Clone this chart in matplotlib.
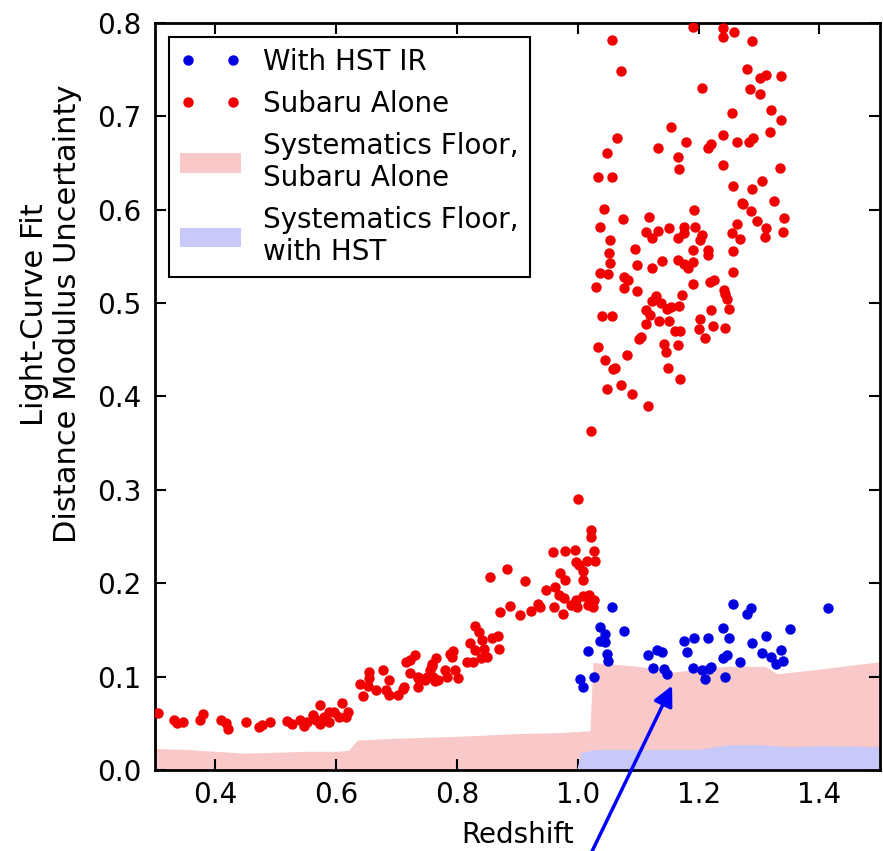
import matplotlib.pyplot as plt
import numpy as np

# Subaru alone (red points)
red_z = [0.305, 0.332, 0.337, 0.347, 0.375, 0.379, 0.410, 0.417, 0.421, 0.450, 0.473, 0.478, 0.491,
         0.518, 0.527, 0.540, 0.547, 0.552, 0.562, 0.567, 0.574, 0.574, 0.580, 0.588, 0.588, 0.596,
         0.604, 0.609, 0.616, 0.619,
         0.639, 0.645, 0.655, 0.655, 0.652, 0.666, 0.677, 0.688, 0.688, 0.683, 0.702, 0.711, 0.716,
         0.722, 0.730, 0.722, 0.736, 0.713,
         0.736, 0.747, 0.755, 0.758, 0.766, 0.761, 0.769, 0.780, 0.783, 0.788, 0.794, 0.791, 0.758,
         0.750, 0.736, 0.797, 0.802, 0.763,
         0.830, 0.836, 0.822, 0.841, 0.830, 0.844, 0.858, 0.868, 0.869, 0.816, 0.827, 0.839, 0.850,
         0.855, 0.882, 0.912, 0.948, 0.963, 0.969, 0.977, 0.997, 1.008, 1.019, 1.027, 1.016, 0.988,
         0.998, 0.961, 0.976, 0.934, 0.937, 0.923, 0.905, 0.887, 0.871, 0.959, 0.979, 0.996, 1.027,
         0.997, 1.002, 1.015, 1.028, 1.008, 1.009, 0.970, 0.979, 1.001, 1.022, 1.022, 1.022, 1.020,
         1.025,
         1.191, 1.241, 1.241, 1.258, 1.288, 1.057, 1.071, 1.206, 1.280, 1.301, 1.312, 1.285, 1.302,
         1.319, 1.255, 1.154, 1.179, 1.133, 1.165, 1.167, 1.064, 1.049, 1.033, 1.056, 1.044, 1.075,
         1.118, 1.192, 1.220, 1.216, 1.240, 1.263, 1.283, 1.290, 1.241, 1.318, 1.257, 1.288, 1.304,
         1.272, 1.286, 1.325, 1.336, 1.336, 1.335, 1.342, 1.339, 1.311, 1.309, 1.296,
         1.036, 1.112, 1.123, 1.133, 1.151, 1.175, 1.175, 1.166, 1.194, 1.206, 1.202, 1.053, 1.052,
         1.053, 1.036, 1.050, 1.030, 1.095, 1.098, 1.123, 1.140, 1.076, 1.083, 1.076, 1.098, 1.165,
         1.175, 1.182, 1.191, 1.191, 1.216, 1.216, 1.190, 1.218, 1.225, 1.172, 1.129, 1.123, 1.137,
         1.148, 1.155, 1.168, 1.112, 1.119, 1.134, 1.151, 1.112, 1.102, 1.104, 1.161, 1.169, 1.142,
         1.146, 1.166, 1.149, 1.169, 1.116, 1.090, 1.071, 1.048, 1.062, 1.058, 1.045, 1.081, 1.034,
         1.040, 1.056, 1.203, 1.221, 1.201, 1.211, 1.223, 1.244, 1.251, 1.247, 1.244, 1.242, 1.256,
         1.257, 1.255, 1.269, 1.264, 1.273]
red_mu = [0.061, 0.054, 0.050, 0.051, 0.054, 0.060, 0.053, 0.050, 0.044, 0.051, 0.046, 0.048, 0.051,
          0.052, 0.049, 0.054, 0.047, 0.051, 0.059, 0.054, 0.070, 0.049, 0.057, 0.062, 0.051, 0.062,
          0.057, 0.072, 0.057, 0.062,
          0.092, 0.079, 0.105, 0.098, 0.090, 0.086, 0.107, 0.096, 0.080, 0.086, 0.080, 0.087, 0.116,
          0.118, 0.123, 0.104, 0.100, 0.089,
          0.089, 0.096, 0.107, 0.114, 0.120, 0.100, 0.096, 0.107, 0.100, 0.124, 0.127, 0.121, 0.111,
          0.100, 0.098, 0.107, 0.098, 0.095,
          0.154, 0.148, 0.136, 0.139, 0.128, 0.130, 0.141, 0.143, 0.130, 0.116, 0.116, 0.120, 0.121,
          0.207, 0.215, 0.202, 0.193, 0.196, 0.187, 0.184, 0.182, 0.186, 0.187, 0.182, 0.177, 0.177,
          0.174, 0.174, 0.167, 0.178, 0.174, 0.170, 0.166, 0.176, 0.169, 0.233, 0.235, 0.236, 0.234,
          0.223, 0.219, 0.224, 0.224, 0.213, 0.203, 0.211, 0.203, 0.290, 0.257, 0.249, 0.363, 0.180,
          0.175,
          0.796, 0.794, 0.785, 0.790, 0.781, 0.782, 0.748, 0.730, 0.751, 0.741, 0.744, 0.729, 0.724,
          0.707, 0.703, 0.688, 0.672, 0.666, 0.656, 0.643, 0.677, 0.661, 0.635, 0.635, 0.601, 0.590,
          0.592, 0.600, 0.670, 0.666, 0.680, 0.672, 0.672, 0.677, 0.648, 0.683, 0.625, 0.622, 0.631,
          0.607, 0.598, 0.609, 0.743, 0.696, 0.645, 0.591, 0.576, 0.580, 0.571, 0.588,
          0.581, 0.576, 0.570, 0.577, 0.580, 0.581, 0.575, 0.570, 0.581, 0.573, 0.567, 0.567, 0.554,
          0.543, 0.532, 0.531, 0.517, 0.558, 0.541, 0.538, 0.545, 0.528, 0.525, 0.516, 0.513, 0.546,
          0.542, 0.537, 0.544, 0.557, 0.557, 0.551, 0.520, 0.522, 0.525, 0.509, 0.508, 0.502, 0.500,
          0.494, 0.496, 0.497, 0.493, 0.487, 0.481, 0.481, 0.477, 0.461, 0.464, 0.470, 0.470, 0.456,
          0.447, 0.455, 0.430, 0.419, 0.390, 0.403, 0.412, 0.408, 0.430, 0.429, 0.439, 0.444, 0.453,
          0.486, 0.486, 0.483, 0.493, 0.472, 0.463, 0.475, 0.473, 0.494, 0.504, 0.510, 0.514, 0.533,
          0.556, 0.575, 0.569, 0.585, 0.606]

# with HST IR (blue points)
blue_z = [1.057, 1.036, 1.045, 1.036, 1.045, 1.077, 1.016, 1.048, 1.050, 1.003, 1.008, 1.027,
          1.116, 1.131, 1.139, 1.125, 1.143, 1.147, 1.176, 1.193, 1.216, 1.181, 1.190, 1.205,
          1.217, 1.221, 1.211, 1.241, 1.251, 1.257, 1.286, 1.280, 1.241, 1.247, 1.244, 1.269,
          1.289, 1.312, 1.304, 1.320, 1.328, 1.336, 1.339, 1.352, 1.414]
blue_mu = [0.175, 0.153, 0.146, 0.138, 0.137, 0.149, 0.127, 0.124, 0.117, 0.097, 0.089, 0.100,
           0.123, 0.129, 0.126, 0.109, 0.108, 0.103, 0.138, 0.141, 0.141, 0.126, 0.109, 0.107,
           0.108, 0.110, 0.097, 0.152, 0.141, 0.178, 0.173, 0.167, 0.120, 0.123, 0.100, 0.116,
           0.136, 0.143, 0.125, 0.121, 0.114, 0.128, 0.117, 0.151, 0.173]

# systematics floors
floor_z = [0.30, 0.35, 0.40, 0.45, 0.50, 0.55, 0.60, 0.62, 0.635, 0.70, 0.80, 0.90, 0.97, 1.02,
           1.025, 1.10, 1.16, 1.21, 1.25, 1.31, 1.33, 1.40, 1.50]
floor_sub = [0.023, 0.022, 0.020, 0.018, 0.019, 0.020, 0.020, 0.021, 0.032, 0.034, 0.036, 0.039,
             0.040, 0.042, 0.115, 0.111, 0.105, 0.109, 0.111, 0.111, 0.103, 0.108, 0.116]
hst_z = [0.998, 1.005, 1.03, 1.10, 1.20, 1.25, 1.30, 1.35, 1.40, 1.50]
floor_hst = [0.0, 0.019, 0.022, 0.022, 0.022, 0.027, 0.027, 0.025, 0.026, 0.025]

fig = plt.figure(figsize=(8.83, 8.51), dpi=100)
ax = fig.add_axes([0.1755, 0.0952, 0.821, 0.878])

ax.plot(blue_z, blue_mu, 'o', color='#0000e0', ms=7.5, mew=0, label='With HST IR', zorder=3)
ax.plot(red_z, red_mu, 'o', color='#f00000', ms=7.5, mew=0, label='Subaru Alone', zorder=3)
ax.fill_between(floor_z, 0, floor_sub, color='#f9c8c8', lw=0,
                label='Systematics Floor,\nSubaru Alone', zorder=1)
ax.fill_between(hst_z, 0, floor_hst, color='#c8c8f9', lw=0,
                label='Systematics Floor,\nwith HST', zorder=2)

ax.set_xlim(0.3, 1.5)
ax.set_ylim(0.0, 0.8)
ax.set_xticks([0.4, 0.6, 0.8, 1.0, 1.2, 1.4])
ax.set_yticks(np.arange(0, 0.81, 0.1))
ax.xaxis.set_major_formatter(plt.FormatStrFormatter('%.1f'))
ax.yaxis.set_major_formatter(plt.FormatStrFormatter('%.1f'))
ax.tick_params(direction='in', length=8, width=1.5, labelsize=20, top=True, right=True)
ax.tick_params(axis='x', pad=8)
ax.tick_params(axis='y', pad=10)
for s in ax.spines.values():
    s.set_linewidth(2)

ax.set_xlabel('Redshift', fontsize=20)
ax.set_ylabel('Light-Curve Fit\nDistance Modulus Uncertainty', fontsize=22,
              multialignment='center')
ax.xaxis.set_label_coords(0.5, -0.068)
ax.yaxis.set_label_coords(-0.10, 0.61)

leg = ax.legend(loc='upper left', fontsize=20, numpoints=2, fancybox=False, framealpha=1,
                edgecolor='black', handlelength=2.2, handletextpad=0.8, borderaxespad=0.5,
                labelspacing=0.5)
leg.get_frame().set_linewidth(1.5)

ax.annotate('', xy=(1.158, 0.093), xytext=(0.666, -0.01), textcoords='figure fraction',
            xycoords='data', annotation_clip=False,
            arrowprops=dict(arrowstyle='-|>', color='blue', lw=2.5, mutation_scale=30))

fig.savefig('out.png', dpi=100)
